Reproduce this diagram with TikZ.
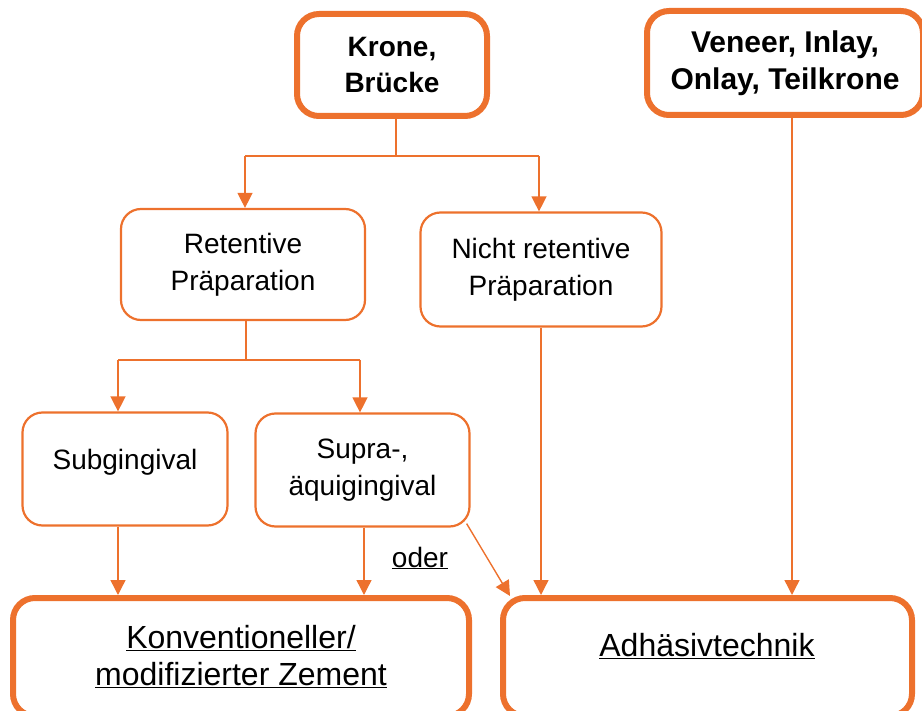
\documentclass[tikz,border=0pt]{standalone}
\usepackage{fontspec}
\setmainfont{Liberation Sans}
\usetikzlibrary{arrows.meta,calc}
\definecolor{ocra}{RGB}{237,113,45}

\begin{document}
\begin{tikzpicture}[x=1pt,y=-1pt,
  every node/.style={font=\fontsize{28}{37}\selectfont,align=center},
  bigbox/.style={draw=ocra,line width=6pt,rounded corners=22pt,fill=white,inner sep=0pt},
  midbox/.style={draw=ocra,line width=2.2pt,rounded corners=20pt,inner sep=0pt},
  link/.style={draw=ocra,line width=1.4pt},
  arr/.style={link,-{Triangle[width=15pt,length=15pt]}}]
  \useasboundingbox (0,0) rectangle (922,711);
  \clip (0,0) rectangle (922,711);
  % top row
  \node[bigbox,minimum width=190pt,minimum height=102pt,font=\fontsize{28}{36}\selectfont\bfseries] (krone) at (392,65) {Krone,\\Brücke};
  \node[bigbox,minimum width=276pt,minimum height=104pt,font=\fontsize{30}{37}\selectfont\bfseries] (veneer) at (785,63) {Veneer, Inlay,\\Onlay, Teilkrone};
  % preparation
  \node[midbox,minimum width=244pt,minimum height=111pt] (ret) at (243,264.5) {Retentive\\Präparation};
  \node[midbox,minimum width=241pt,minimum height=114pt] (nret) at (541,269.5) {Nicht retentive\\Präparation};
  % margin position
  \node[midbox,minimum width=205pt,minimum height=113pt] (sub) at (125,469) {};
  \node (subtext) at (125,462) {Subgingival};
  \node[midbox,minimum width=214pt,minimum height=113pt] (supra) at (362.5,470) {Supra-,\\äquigingival};
  % bottom row
  \node[bigbox,minimum width=456pt,minimum height=118pt,font=\fontsize{32}{37}\selectfont] (kon) at (241,657) {\underline{Konventioneller/}\\\underline{modifizierter Zement}};
  \node[bigbox,minimum width=409pt,minimum height=118pt] (adh) at (707.5,657) {};
  \node[font=\fontsize{32}{37}\selectfont] (adhtext) at (707,646) {\underline{Adhäsivtechnik}};
  \node (oder) at (420,558) {\underline{oder}};
  % connectors
  \coordinate (s1) at (396,156);
  \coordinate (s1l) at (245,156);
  \coordinate (s1r) at (539,156);
  \draw[link] (s1 |- krone.south) -- (s1);
  \draw[link] (s1l) -- (s1r);
  \draw[arr] (s1l) -- (s1l |- ret.north);
  \draw[arr] (s1r) -- (s1r |- nret.north);
  \coordinate (s2) at (246,360);
  \coordinate (s2l) at (118,360);
  \coordinate (s2r) at (360,360);
  \draw[link] (s2 |- ret.south) -- (s2);
  \draw[link] (s2l) -- (s2r);
  \draw[arr] (s2l) -- (s2l |- sub.north);
  \draw[arr] (s2r) -- (s2r |- supra.north);
  \draw[arr] (sub.south -| s2l) -- (s2l |- kon.north);
  \coordinate (s3) at (364,0);
  \draw[arr] (supra.south -| s3) -- (s3 |- kon.north);
  \coordinate (adhin) at (510,596);
  \draw[arr] ($(supra.south east)+(-4,-4)$) -- (adhin);
  \draw[arr] (nret.south) -- (nret.south |- adh.north);
  \coordinate (s4) at (792,0);
  \draw[arr] (veneer.south -| s4) -- (s4 |- adh.north);
\end{tikzpicture}
\end{document}
